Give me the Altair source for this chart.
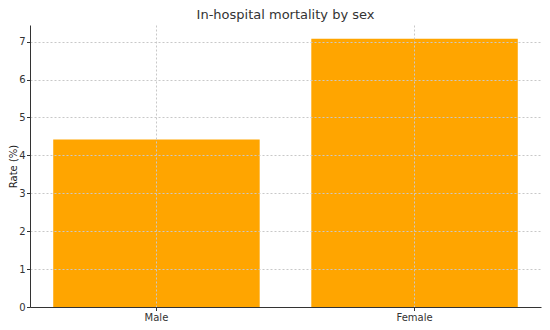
import altair as alt
import pandas as pd

sexes = ["Male", "Female"]
rates = [4.42, 7.08]
y_ticks = [0, 1, 2, 3, 4, 5, 6, 7]

df = pd.DataFrame({"sex": sexes, "rate": rates})

FONT = "DejaVu Sans"
GRID = "#c8c8c8"

chart = alt.Chart(df).mark_bar(color="#FFA500").encode(
    x=alt.X(
        "sex:N",
        sort=sexes,
        title=None,
        scale=alt.Scale(paddingInner=0.2, paddingOuter=0.09),
        axis=alt.Axis(
            labelAngle=0, bandPosition=0.5, grid=True, gridDash=[2, 2],
            gridColor=GRID, gridWidth=1, zindex=1,
            tickSize=3.5, tickColor="#333333", domainColor="#333333",
            labelColor="#333333", labelFont=FONT, labelFontSize=10, labelPadding=2,
        ),
    ),
    y=alt.Y(
        "rate:Q",
        title="Rate (%)",
        scale=alt.Scale(domain=[0, 7.44], nice=False, zero=True),
        axis=alt.Axis(
            values=y_ticks, grid=True, gridDash=[2, 2], gridColor=GRID,
            gridWidth=1, zindex=1, tickSize=3.5, tickColor="#333333",
            domainColor="#333333", labelColor="#333333", labelFont=FONT,
            labelFontSize=10, labelPadding=1.5, titleFont=FONT, titleFontSize=10,
            titleFontWeight="normal", titleColor="#222222",
            titleX=-14, titleBaseline="alphabetic", titleAngle=270,
        ),
    ),
).properties(
    width=511,
    height=282,
    title=alt.TitleParams(
        "In-hospital mortality by sex", font=FONT, fontSize=13,
        fontWeight="normal", color="#333333", anchor="middle", offset=3,
    ),
    autosize=alt.AutoSizeParams(type="none"),
    padding={"left": 22, "top": 17, "right": 1, "bottom": 15},
).configure_view(stroke=None)

chart.save("out.html", embed_options={"renderer": "svg", "actions": False})
